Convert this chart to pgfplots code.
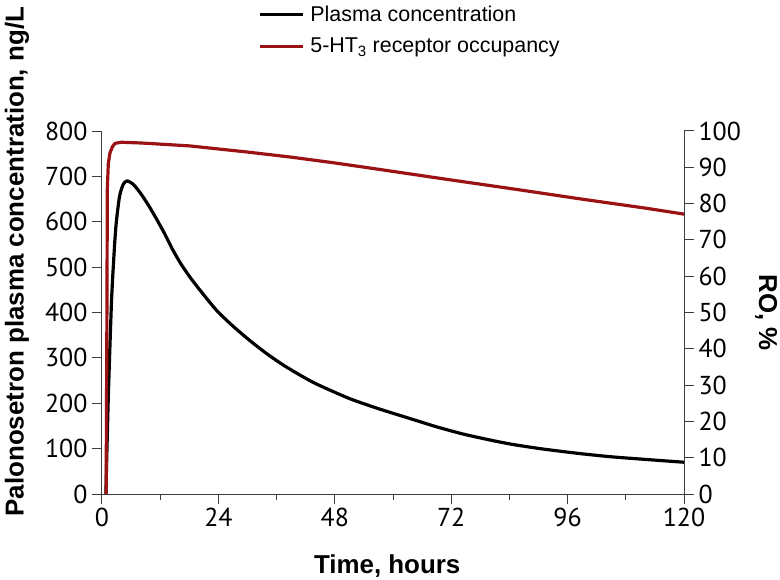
\documentclass[border=0pt]{standalone}
\usepackage{fontspec}
\setmainfont{Liberation Sans}
\newfontfamily\tickfont{PT Sans}
\usepackage{pgfplots}
\pgfplotsset{compat=1.18}
\definecolor{rored}{RGB}{155,18,20}
\definecolor{axgray}{RGB}{60,60,60}

\pgfplotstableread{
t c
0.8 0
1.3 213
2.0 434
2.8 581
3.6 655
4.4 683
5.2 690
6.5 682
8 662
9.6 636
11.3 605
13 572
14.5 540
16.1 510
18 480
20 452
23.6 405
27 370
30.5 338
34 309
37.4 284
41 261
44.3 242
51.1 210
57.3 187
64.2 164
69 148
74.5 132
80 119
84.8 109
91 99
98.6 89
105 82
112.3 76
120 70
}\plasma

\pgfplotstableread{
t r
0.85 0
1.0 45
1.1 84
1.3 91
1.65 94
2.2 95.8
2.7 96.6
4 96.9
8 96.7
18 95.9
30 94.2
39 92.8
48 91.2
57.3 89.4
71 86.7
85 84.0
98.6 81.3
112.3 78.7
120 77.1
}\ro

\begin{document}
\begin{tikzpicture}
\path[use as bounding box] (-102bp,-86bp) rectangle (678bp,494bp);
\pgfplotsset{
  every axis/.append style={
    scale only axis, width=582bp, height=363bp,
    xmin=0, xmax=120,
    tick align=outside,
    major tick length=10bp, minor tick length=6bp,
    every tick/.style={axgray, line width=1pt},
    axis line style={axgray, line width=1pt},
    tick label style={font=\tickfont\fontsize{26}{26}\selectfont},
    /pgf/number format/assume math mode=true,
    label style={font=\bfseries\fontsize{26}{26}\selectfont},
  }
}
\begin{axis}[
  at={(0,0)}, anchor=south west,
  axis x line*=bottom, axis y line*=left,
  ymin=0, ymax=800,
  ytick={0,100,...,800},
  xtick={0,24,48,72,96,120},
  minor xtick={12,36,60,84,108},
  xticklabel style={yshift=-1bp},
  yticklabel style={xshift=-1bp},
  xlabel={Time, hours},
  ylabel={Palonosetron plasma concentration, ng/L},
  xlabel style={at={(axis description cs:0.49,0)}, anchor=center, yshift=-72bp},
  ylabel style={at={(axis description cs:-0.146,0.64)}, anchor=center, rotate=0},
  legend style={at={(rel axis cs:0.268,1.35)}, anchor=north west, draw=none, fill=none,
    font=\fontsize{21.5}{21.5}\selectfont, row sep=11bp, inner sep=0pt,
    /tikz/every odd column/.style={column sep=4bp}},
  legend cell align=left,
  legend image code/.code={\draw[#1] (0bp,0bp) -- (43bp,0bp);},
]
\addplot[black, line width=3.2pt, line join=round, smooth, tension=0.4] table[x=t, y=c] {\plasma};
\addlegendentry{Plasma concentration}
\addlegendimage{rored, line width=3.2pt}
\addlegendentry{5-HT\textsubscript{3} receptor occupancy}
\end{axis}
\begin{axis}[
  at={(0,0)}, anchor=south west,
  axis y line*=right, axis x line=none,
  ymin=0, ymax=100,
  ytick={0,10,...,100},
  yticklabel style={xshift=1bp},
  ylabel={RO, \%},
  ylabel style={at={(axis description cs:1.141,0.5)}, anchor=center, rotate=180},
]
\addplot[rored, line width=3.2pt, line join=round] table[x=t, y=r] {\ro};
\end{axis}
\end{tikzpicture}
\end{document}
